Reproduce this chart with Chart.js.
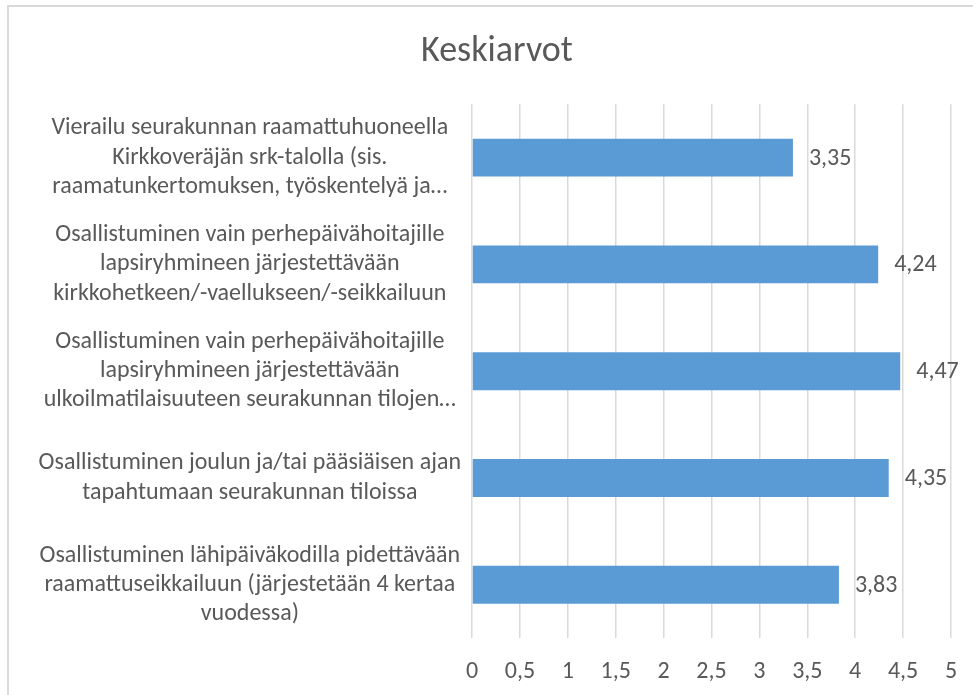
<!DOCTYPE html>
<html>
<head>
<meta charset="utf-8">
<script src="https://cdn.jsdelivr.net/npm/chart.js@4/dist/chart.umd.min.js"></script>
<style>
  html, body { margin: 0; padding: 0; background: #fff; }
  #wrap { position: relative; width: 973px; height: 695px; }
  #frame { position: absolute; left: 7px; top: 5px; right: -10px; bottom: -10px;
           border-left: 2px solid #d9d9d9; border-top: 2px solid #d9d9d9; }
  #chart { position: absolute; left: 0; top: 0; }
</style>
</head>
<body>
<div id="wrap">
  <div id="frame"></div>
  <canvas id="chart" width="973" height="695"></canvas>
</div>
<script>
const titleText = 'Keskiarvot';

const categories = [
  ['Vierailu seurakunnan raamattuhuoneella', 'Kirkkoveräjän srk-talolla (sis.', 'raamatunkertomuksen, työskentelyä ja…'],
  ['Osallistuminen vain perhepäivähoitajille', 'lapsiryhmineen järjestettävään', 'kirkkohetkeen/-vaellukseen/-seikkailuun'],
  ['Osallistuminen vain perhepäivähoitajille', 'lapsiryhmineen järjestettävään', 'ulkoilmatilaisuuteen seurakunnan tilojen…'],
  ['Osallistuminen joulun ja/tai pääsiäisen ajan', 'tapahtumaan seurakunnan tiloissa'],
  ['Osallistuminen lähipäiväkodilla pidettävään', 'raamattuseikkailuun (järjestetään 4 kertaa', 'vuodessa)']
];

const values = [3.35, 4.24, 4.47, 4.35, 3.83];

const tickLabels = ['0', '0,5', '1', '1,5', '2', '2,5', '3', '3,5', '4', '4,5', '5'];

const FONT = 'Carlito, Lato, "Open Sans", sans-serif';
const TXT = '#595959';

// value labels right of each bar
const valueLabels = {
  id: 'valueLabels',
  afterDatasetsDraw(chart) {
    const ctx = chart.ctx;
    const meta = chart.getDatasetMeta(0);
    ctx.save();
    ctx.font = '24px ' + FONT;
    ctx.fillStyle = TXT;
    ctx.textAlign = 'left';
    ctx.textBaseline = 'middle';
    meta.data.forEach((bar, i) => {
      ctx.fillText(String(values[i]).replace('.', ','), bar.x + 16, bar.y + 1);
    });
    ctx.restore();
  }
};

// the left padding pushes the title right; let the y labels use that space too
const widenLabelClip = {
  id: 'widenLabelClip',
  afterLayout(chart) {
    const y = chart.scales.y;
    if (y) y.left = 0;
  }
};

new Chart(document.getElementById('chart'), {
  type: 'bar',
  data: {
    labels: categories,
    datasets: [{
      data: values,
      backgroundColor: '#5b9bd5',
      borderWidth: 0,
      barPercentage: 0.355,
      categoryPercentage: 1
    }]
  },
  options: {
    indexAxis: 'y',
    responsive: false,
    animation: false,
    layout: { padding: { left: 43, right: 22, top: 0, bottom: 5 } },
    plugins: {
      legend: { display: false },
      tooltip: { enabled: false },
      title: {
        display: true,
        text: titleText,
        color: TXT,
        font: { family: FONT, size: 36, weight: '300' },
        padding: { top: 30, bottom: 31 }
      }
    },
    scales: {
      x: {
        min: 0, max: 5,
        ticks: {
          stepSize: 0.5,
          color: TXT,
          font: { family: FONT, size: 24 },
          padding: 4,
          maxRotation: 0,
          autoSkip: false,
          callback: (v, i) => tickLabels[i]
        },
        grid: { color: '#d9d9d9', lineWidth: 1.5, drawTicks: true, tickLength: 15, tickColor: 'rgba(0,0,0,0)' },
        border: { display: false }
      },
      y: {
        ticks: {
          color: TXT,
          font: { family: FONT, size: 24, lineHeight: 1.22 },
          crossAlign: 'center',
          padding: 3,
          autoSkip: false
        },
        grid: { display: false },
        border: { display: false },
        afterFit(scale) { scale.width = 429; }
      }
    }
  },
  plugins: [valueLabels, widenLabelClip]
});
</script>
</body>
</html>
